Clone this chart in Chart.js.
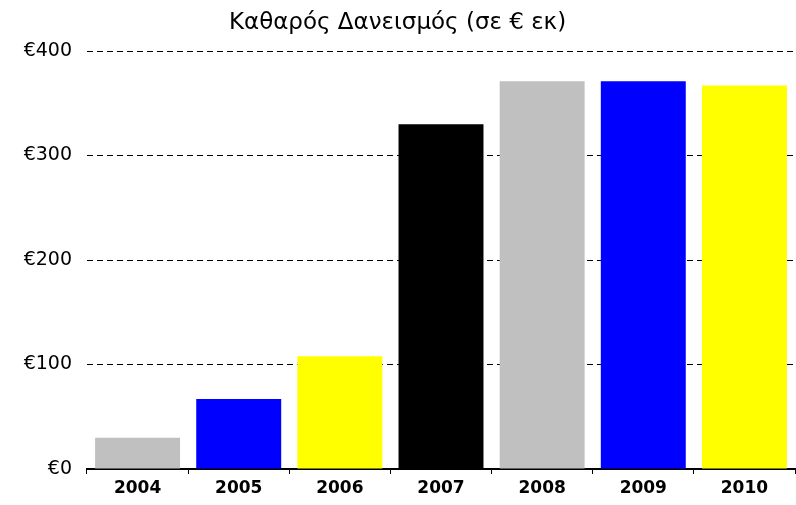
<!DOCTYPE html>
<html>
<head>
<meta charset="utf-8">
<script src="https://cdn.jsdelivr.net/npm/chart.js@4"></script>
<style>
  html, body { margin: 0; padding: 0; background: #fff; }
  #wrap { width: 796px; height: 505px; }
</style>
</head>
<body>
<div id="wrap"><canvas id="loanChart" width="796" height="505"></canvas></div>
<script>
var years = ['2004', '2005', '2006', '2007', '2008', '2009', '2010'];
var netBorrowing = [30, 67, 108, 330, 371, 371, 367];
var barColors = ['#c0c0c0', '#0000ff', '#ffff00', '#000000', '#c0c0c0', '#0000ff', '#ffff00'];
var yTicks = [0, 100, 200, 300, 400];
var chartTitle = 'Καθαρός Δανεισμός (σε € εκ)';

var ctx = document.getElementById('loanChart');

var chart = new Chart(ctx, {
  type: 'bar',
  data: {
    labels: years,
    datasets: [{
      label: chartTitle,
      data: netBorrowing,
      backgroundColor: barColors,
      borderWidth: 0,
      categoryPercentage: 1,
      barPercentage: 0.84
    }]
  },
  options: {
    responsive: false,
    animation: false,
    layout: { padding: { left: 0, right: 1, top: 0, bottom: 0 } },
    plugins: {
      legend: { display: false },
      tooltip: { enabled: false },
      title: {
        display: true,
        text: chartTitle,
        color: '#000',
        font: { family: 'DejaVu Sans', size: 23, weight: 'normal' },
        padding: { top: 9, bottom: 14.4 }
      }
    },
    scales: {
      x: {
        afterFit: function(scale) { scale.height = 36; },
        border: { display: true, color: '#000', width: 2 },
        grid: {
          display: true,
          drawOnChartArea: false,
          drawTicks: true,
          tickLength: 5,
          color: '#000',
          lineWidth: 1
        },
        ticks: {
          color: '#000',
          padding: 4,
          font: { family: 'DejaVu Sans', size: 17, weight: 'bold' }
        }
      },
      y: {
        min: 0,
        max: 400,
        afterFit: function(scale) { scale.width = 87; },
        afterBuildTicks: function(scale) {
          scale.ticks = yTicks.map(function(v) { return { value: v }; });
        },
        border: { display: false, dash: [6, 4] },
        grid: {
          drawTicks: false,
          color: function(c) { return c.tick && c.tick.value === 0 ? 'rgba(0,0,0,0)' : '#000'; },
          lineWidth: 1
        },
        ticks: {
          color: '#000',
          padding: 15,
          font: { family: 'DejaVu Sans', size: 19 },
          callback: function(v) { return '€' + v; }
        }
      }
    }
  }
});
</script>
</body>
</html>
